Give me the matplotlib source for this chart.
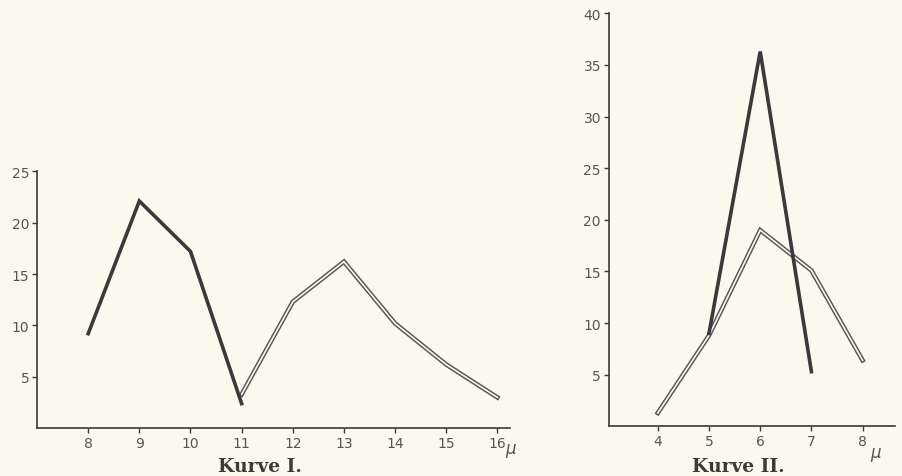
import matplotlib.pyplot as plt

# Kurve I
k1_dark_x = [8, 9, 10, 11]
k1_dark_y = [9.2, 22.1, 17.2, 2.4]
k1_hollow_x = [11, 12, 13, 14, 15, 16]
k1_hollow_y = [3.3, 12.3, 16.2, 10.2, 6.2, 3.0]
k1_xticks = [8, 9, 10, 11, 12, 13, 14, 15, 16]
k1_yticks = [5, 10, 15, 20, 25]

# Kurve II
k2_dark_x = [5, 6, 7]
k2_dark_y = [9.0, 36.3, 5.3]
k2_hollow_x = [4, 5, 6, 7, 8]
k2_hollow_y = [1.3, 8.8, 19.0, 15.1, 6.4]
k2_xticks = [4, 5, 6, 7, 8]
k2_yticks = [5, 10, 15, 20, 25, 30, 35, 40]

paper = '#fbf9ee'
ink = '#3a3a3a'
tick_color = '#555555'

fig = plt.figure(figsize=(9.03, 4.77), dpi=100, facecolor=paper)
ax1 = fig.add_axes([0.041, 0.100, 0.524, 0.539])
ax2 = fig.add_axes([0.674, 0.104, 0.317, 0.866])


def style(ax, xlim, ylim, xticks, yticks):
    ax.set_facecolor(paper)
    ax.set_xlim(*xlim)
    ax.set_ylim(*ylim)
    ax.set_xticks(xticks)
    ax.set_yticks(yticks)
    for s in ['top', 'right']:
        ax.spines[s].set_visible(False)
    for s in ['left', 'bottom']:
        ax.spines[s].set_color(ink)
        ax.spines[s].set_linewidth(1.2)
    ax.tick_params(direction='out', length=3.5, width=1, color=ink,
                   labelsize=10, labelcolor=tick_color, pad=2)


def hollow(ax, x, y):
    ax.plot(x, y, color='#555555', linewidth=3.3, solid_joinstyle='miter', zorder=2)
    ax.plot(x, y, color=paper, linewidth=1.2, solid_joinstyle='miter', zorder=3)


def dark(ax, x, y):
    ax.plot(x, y, color=ink, linewidth=2.6, solid_joinstyle='miter', zorder=4)


style(ax1, (7, 16.25), (0, 25), k1_xticks, k1_yticks)
hollow(ax1, k1_hollow_x, k1_hollow_y)
dark(ax1, k1_dark_x, k1_dark_y)
ax1.text(16.15, -1.0, 'μ', fontsize=12, color=tick_color, va='top', ha='left',
         style='italic', clip_on=False)

style(ax2, (3.04, 8.63), (0, 40), k2_xticks, k2_yticks)
hollow(ax2, k2_hollow_x, k2_hollow_y)
dark(ax2, k2_dark_x, k2_dark_y)
ax2.text(8.15, -1.6, 'μ', fontsize=12, color=tick_color, va='top', ha='left',
         style='italic', clip_on=False)

fig.text(0.288, 0.022, 'Kurve I.', fontsize=13.5, fontweight='bold',
         family='DejaVu Serif', color='#3a3a3a', ha='center', va='center')
fig.text(0.818, 0.022, 'Kurve II.', fontsize=13.5, fontweight='bold',
         family='DejaVu Serif', color='#3a3a3a', ha='center', va='center')

fig.savefig('out.png', dpi=100, facecolor=paper)
